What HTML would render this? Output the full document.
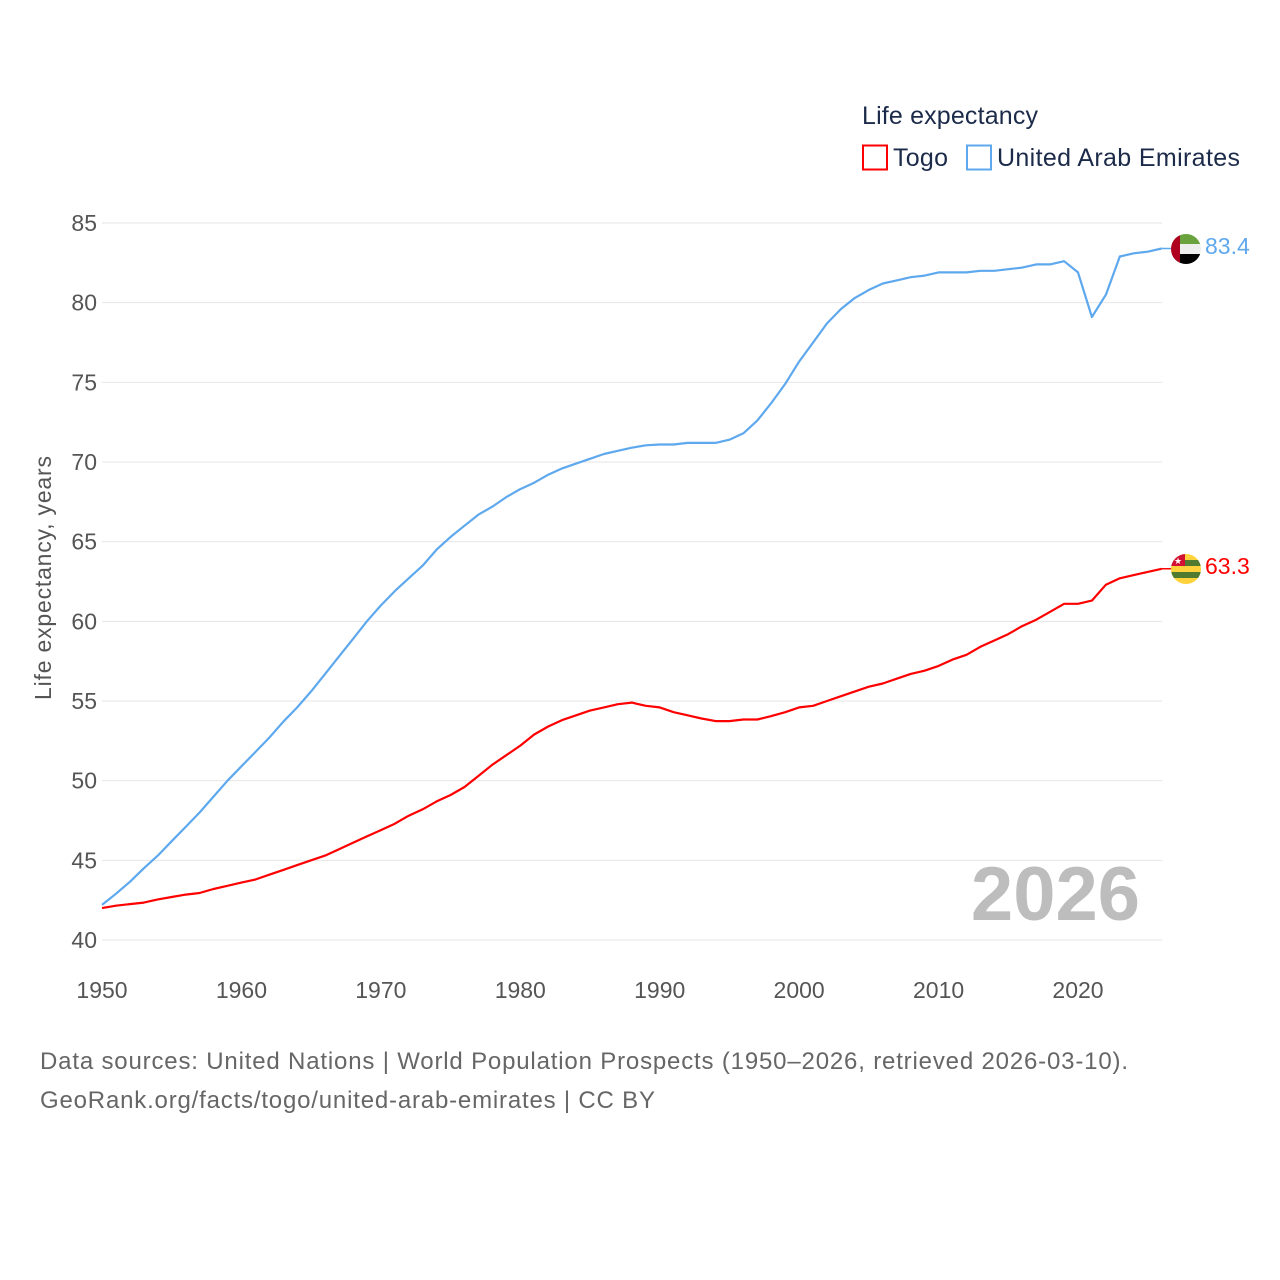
<!DOCTYPE html>
<html><head><meta charset="utf-8"><style>
html,body{margin:0;padding:0;background:#fff;}
svg{display:block;font-family:"Liberation Sans",sans-serif;}
</style></head><body>
<svg id="chart" width="1280" height="1280" viewBox="0 0 1280 1280" xmlns="http://www.w3.org/2000/svg">
<defs>
<clipPath id="cUae"><circle cx="1186" cy="249" r="15"/></clipPath>
<clipPath id="cTogo"><circle cx="1186" cy="569" r="15"/></clipPath>
</defs>
<g id="grid"></g>
<g id="yticks"></g>
<g id="xticks"></g>
<text transform="translate(51,578) rotate(-90)" text-anchor="middle" font-size="23" fill="#555" textLength="244">Life expectancy, years</text>
<text x="1140" y="920" text-anchor="end" font-size="76" font-weight="bold" fill="#bdbdbd">2026</text>
<g id="series"></g>
<g>
<text x="862" y="124" font-size="25" fill="#1c2b4a" textLength="176">Life expectancy</text>
<g>
<rect x="863" y="145.5" width="24" height="24" fill="none" stroke="#f00" stroke-width="2"/>
<text x="893" y="166" font-size="25" fill="#1c2b4a" textLength="55">Togo</text></g>
<g>
<rect x="967" y="145.5" width="24" height="24" fill="none" stroke="#5ea8ee" stroke-width="2"/>
<text x="997" y="166" font-size="25" fill="#1c2b4a" textLength="243">United Arab Emirates</text></g>
</g>
<g clip-path="url(#cUae)">
<rect x="1171" y="234" width="30" height="10" fill="#6aa33d"/>
<rect x="1171" y="244" width="30" height="10" fill="#eee"/>
<rect x="1171" y="254" width="30" height="10" fill="#000"/>
<rect x="1171" y="234" width="9" height="30" fill="#b0001f"/>
</g>
<g clip-path="url(#cTogo)">
<rect x="1171" y="554" width="30" height="30" fill="#ffd23c"/>
<rect x="1171" y="560" width="30" height="6" fill="#4f7a30"/>
<rect x="1171" y="572" width="30" height="6" fill="#4f7a30"/>
<rect x="1171" y="584" width="30" height="6" fill="#4f7a30"/>
<rect x="1171" y="554" width="14" height="12" fill="#d21034"/>
<text x="1178" y="564" font-size="9" fill="#fff" text-anchor="middle">★</text>
</g>
<text x="1205" y="254" font-size="23" fill="#5ea8ee">83.4</text>
<text x="1205" y="574" font-size="23" fill="#f00">63.3</text>
<g>
<text x="40" y="1069" font-size="24" fill="#666" textLength="1088">Data sources: United Nations | World Population Prospects (1950–2026, retrieved 2026-03-10).</text>
<text x="40" y="1108" font-size="24" fill="#666" textLength="615">GeoRank.org/facts/togo/united-arab-emirates | CC BY</text>
</g>
</svg>
<script>
const startYear = 1950;
const yTicks = [40,45,50,55,60,65,70,75,80,85];
const xTicks = [1950,1960,1970,1980,1990,2000,2010,2020];
const uaeValues = [42.2,42.9,43.65,44.5,45.3,46.2,47.1,48.0,49.0,50.0,50.9,51.8,52.7,53.7,54.6,55.6,56.7,57.8,58.9,60.0,61.0,61.9,62.7,63.5,64.5,65.3,66.0,66.7,67.2,67.8,68.3,68.7,69.2,69.6,69.9,70.2,70.5,70.7,70.9,71.05,71.1,71.1,71.2,71.2,71.2,71.4,71.8,72.6,73.7,74.9,76.3,77.5,78.7,79.6,80.3,80.8,81.2,81.4,81.6,81.7,81.9,81.9,81.9,82.0,82.0,82.1,82.2,82.4,82.4,82.6,81.9,79.1,80.5,82.9,83.1,83.2,83.4];
const togoValues = [42.0,42.15,42.25,42.35,42.55,42.7,42.85,42.95,43.2,43.4,43.6,43.8,44.1,44.4,44.7,45.0,45.3,45.7,46.1,46.5,46.9,47.3,47.8,48.2,48.7,49.1,49.6,50.3,51.0,51.6,52.2,52.9,53.4,53.8,54.1,54.4,54.6,54.8,54.9,54.7,54.6,54.3,54.1,53.9,53.74,53.74,53.84,53.84,54.05,54.3,54.6,54.7,55.0,55.3,55.6,55.9,56.1,56.4,56.7,56.9,57.2,57.6,57.9,58.4,58.8,59.2,59.7,60.1,60.6,61.1,61.1,61.3,62.3,62.7,62.9,63.1,63.3];

const NS = 'http://www.w3.org/2000/svg';
const X0 = 102, X1 = 1162, Y40 = 940, Y85 = 223;
function xs(yr){ return X0 + (yr - 1950) * (1078 - 102) / 70; }
function ys(v){ return Y40 - (v - 40) * (Y40 - Y85) / 45; }
function mk(tag, attrs, parent){ const e = document.createElementNS(NS, tag); for (const k in attrs) e.setAttribute(k, attrs[k]); parent.appendChild(e); return e; }

const grid = document.getElementById('grid');
const yt = document.getElementById('yticks');
yTicks.forEach(v => {
  const l = mk('line', {x1: X0, x2: X1, y1: ys(v), y2: ys(v), stroke: '#e6e6e6', 'stroke-width': 1}, grid);
  
  
  const t = mk('text', {x: 97, y: ys(v) + 8, 'text-anchor': 'end', 'font-size': 23, fill: '#555'}, yt);
  t.textContent = v;
  
  
});
const xt = document.getElementById('xticks');
xTicks.forEach(yr => {
  const t = mk('text', {x: xs(yr), y: 998, 'text-anchor': 'middle', 'font-size': 23, fill: '#555'}, xt);
  t.textContent = yr;
  
  
});
const sg = document.getElementById('series');
function drawLine(vals, color, name){
  const d = vals.map((v, i) => (i ? 'L' : 'M') + xs(startYear + i).toFixed(1) + ',' + ys(v).toFixed(1)).join(' ');
  const p = mk('path', {d: d, fill: 'none', stroke: color, 'stroke-width': 2.2, 'stroke-linejoin': 'round'}, sg);
  
  
  const last = vals[vals.length - 1];
  const c = mk('line', {x1: xs(startYear + vals.length - 1), x2: 1172, y1: ys(last), y2: ys(last), stroke: color, 'stroke-width': 1.5}, sg);
  
  
}
drawLine(uaeValues, '#5ea8ee', 'uae-line');
drawLine(togoValues, '#ff0000', 'togo-line');
</script>
</body></html>
